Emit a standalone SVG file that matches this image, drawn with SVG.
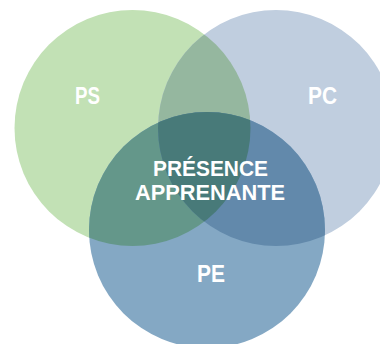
<svg xmlns="http://www.w3.org/2000/svg" width="380" height="344" viewBox="0 0 380 344">
  <defs>
    <clipPath id="clip-ps"><circle cx="132.5" cy="128" r="118"/></clipPath>
    <clipPath id="clip-pc"><circle cx="276" cy="128" r="118"/></clipPath>
    <clipPath id="clip-pe"><circle cx="207" cy="230" r="118"/></clipPath>
  </defs>
  <style>
    .lbl { font-family: "Liberation Sans", Arial, sans-serif; font-weight: bold; fill: #ffffff; text-anchor: middle; }
    .big { font-size: 21.5px; }
    .small { font-size: 23px; }
  </style>
  <rect width="380" height="344" fill="#ffffff"/>

  <g id="node-ps">
    <circle cx="132.5" cy="128" r="118" fill="#c2e1b5"/>
  </g>
  <g id="node-pc">
    <circle cx="276" cy="128" r="118" fill="#c0cedf"/>
  </g>
  <g id="node-pe">
    <circle cx="207" cy="230" r="118" fill="#84a8c4"/>
  </g>

  <!-- overlaps -->
  <g id="overlaps">
    <g clip-path="url(#clip-ps)">
      <circle cx="276" cy="128" r="118" fill="#95b79f"/>
      <circle cx="207" cy="230" r="118" fill="#64978a"/>
    </g>
    <g clip-path="url(#clip-pc)">
      <circle cx="207" cy="230" r="118" fill="#6289ab"/>
    </g>
    <g clip-path="url(#clip-ps)">
      <g clip-path="url(#clip-pc)">
        <circle cx="207" cy="230" r="118" fill="#487a79"/>
      </g>
    </g>
  </g>

  <g id="labels">
    <text class="lbl small" x="87.5" y="104" textLength="25" lengthAdjust="spacingAndGlyphs">PS</text>
    <text class="lbl small" x="322.5" y="104" textLength="29" lengthAdjust="spacingAndGlyphs">PC</text>
    <text class="lbl small" x="211" y="282" textLength="28" lengthAdjust="spacingAndGlyphs">PE</text>
    <text class="lbl big" x="210.5" y="176" textLength="115" lengthAdjust="spacingAndGlyphs">PRÉSENCE</text>
    <text class="lbl big" x="210" y="200" textLength="150" lengthAdjust="spacingAndGlyphs">APPRENANTE</text>
  </g>
</svg>
